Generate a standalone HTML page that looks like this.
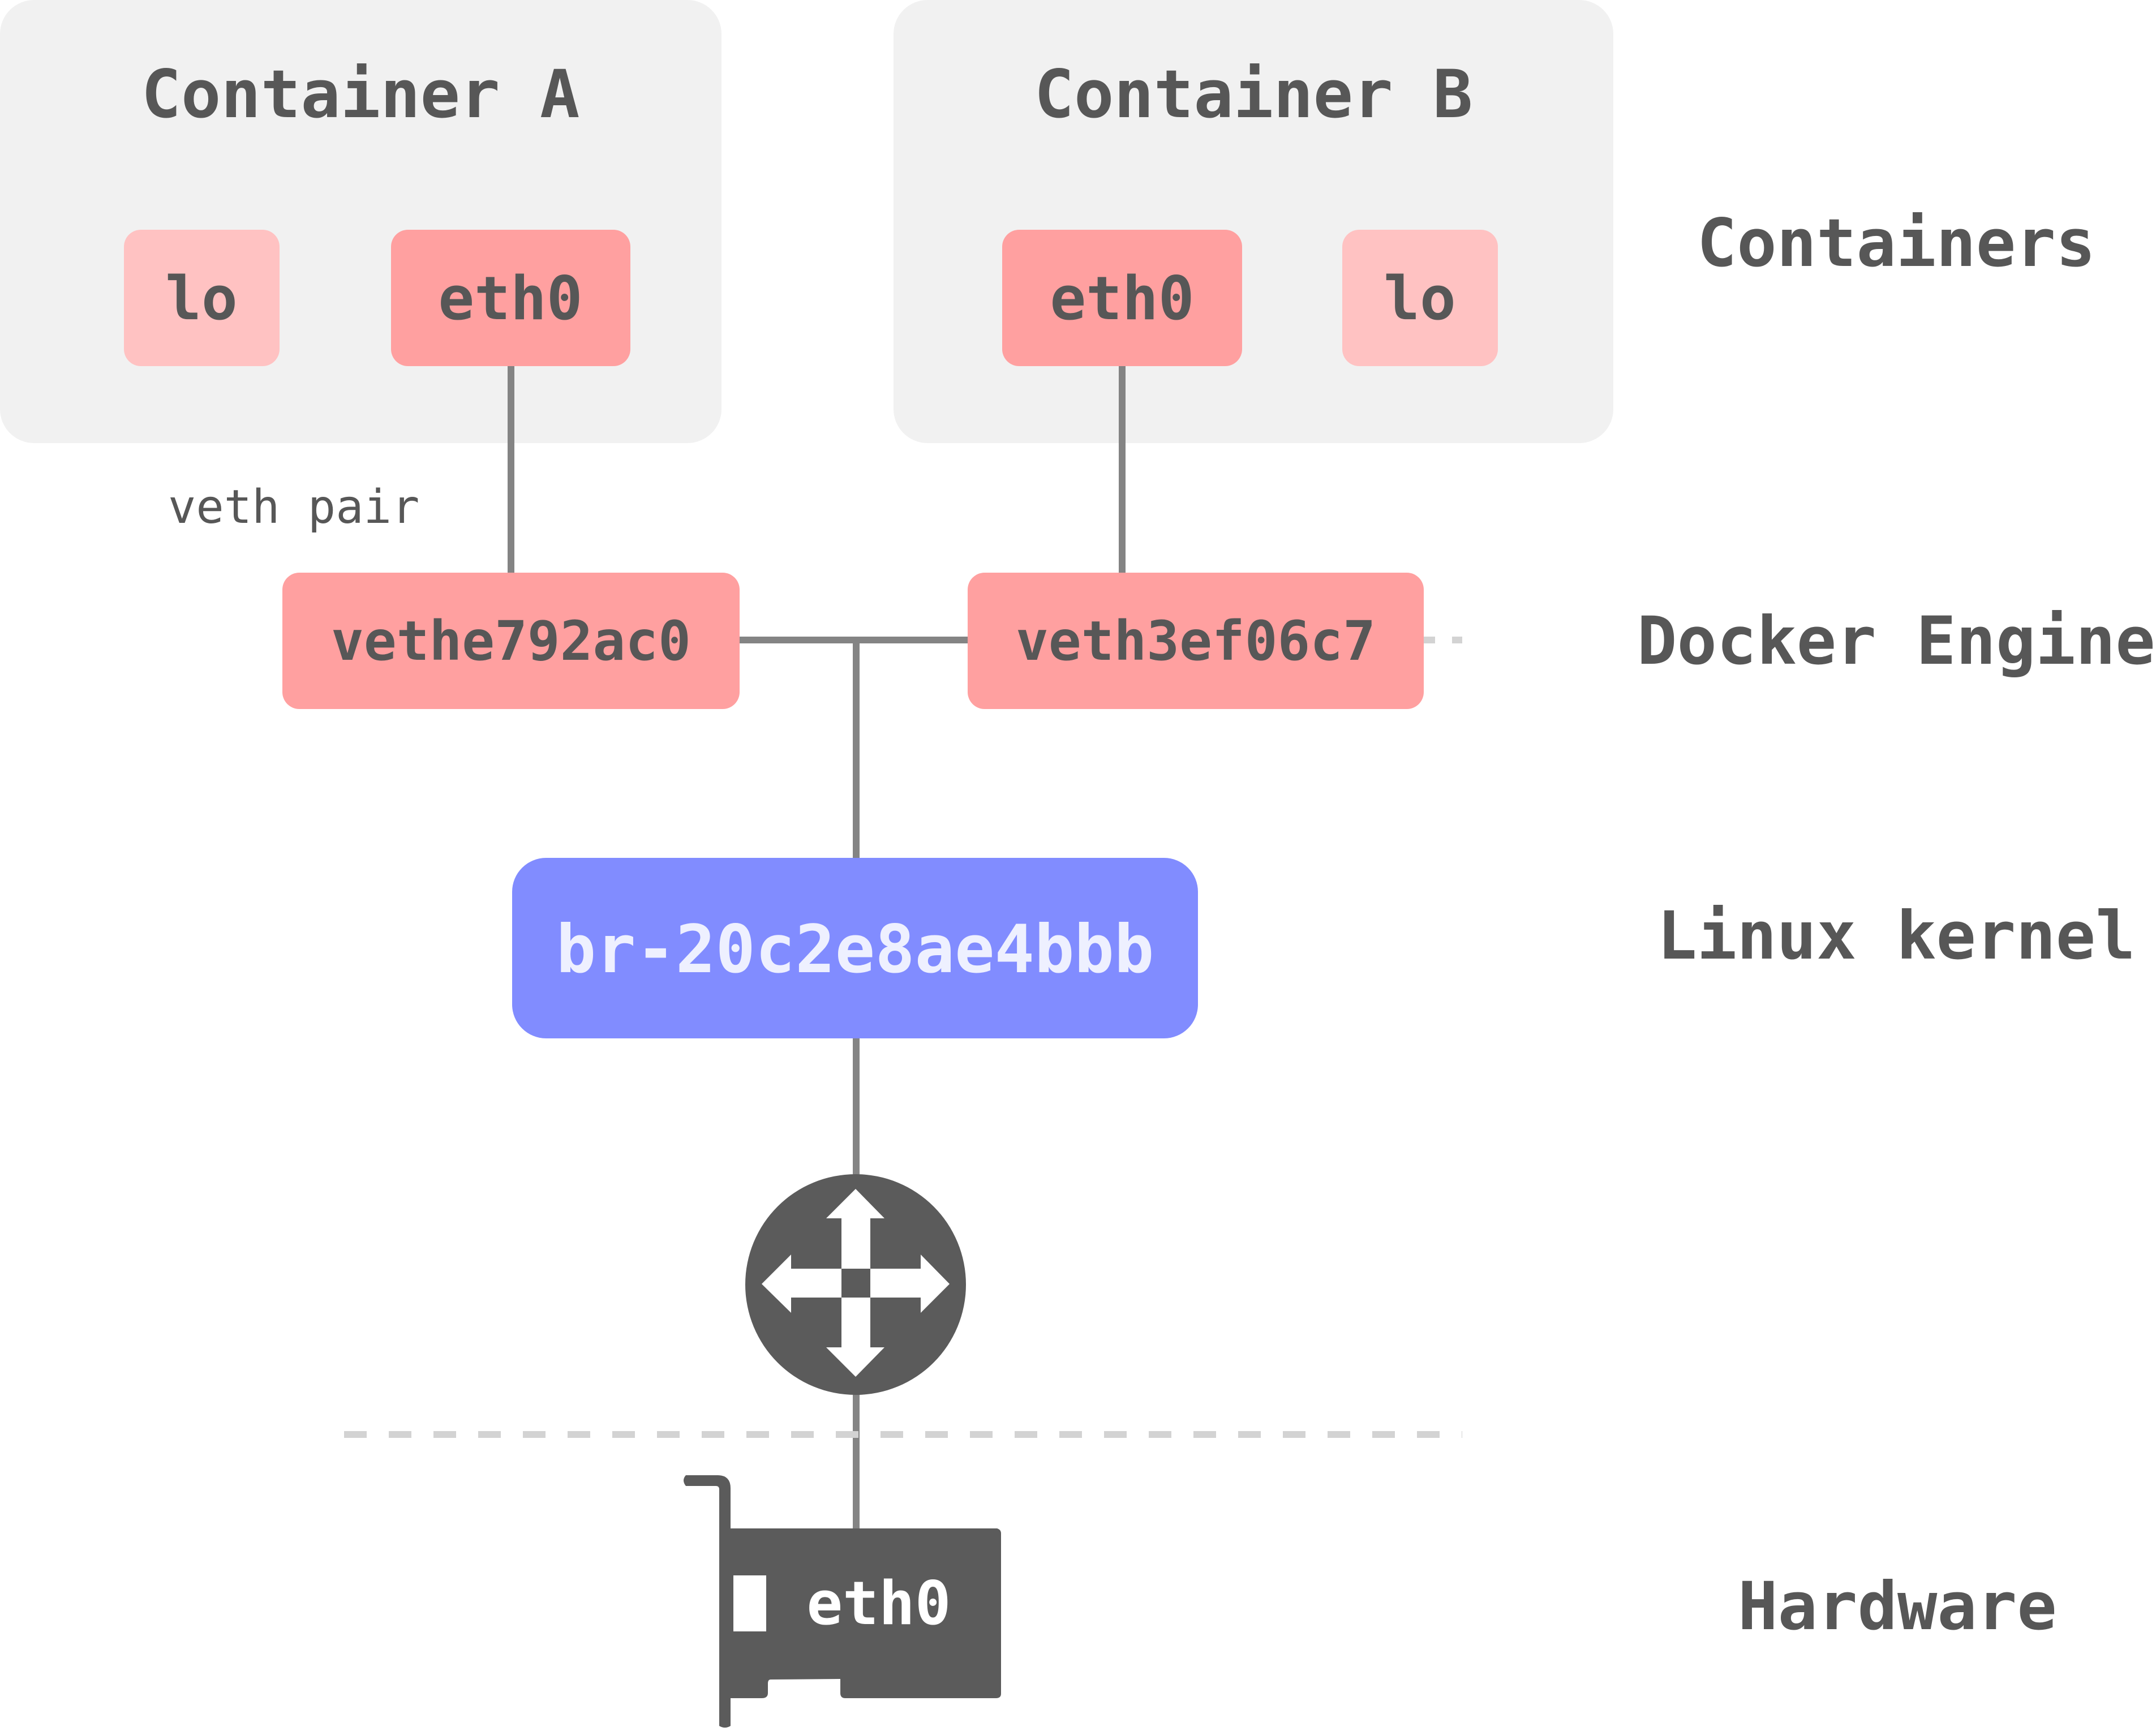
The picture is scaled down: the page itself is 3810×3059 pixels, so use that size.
<!DOCTYPE html>
<html><head><meta charset="utf-8"><style>html,body{margin:0;padding:0;background:#fff}svg{display:block}</style></head>
<body>
<svg width="3810" height="3059" viewBox="0 0 3810 3059" xmlns="http://www.w3.org/2000/svg" font-family="'DejaVu Sans Mono','Liberation Mono',monospace" font-weight="bold" fill="#575757">
<rect x="0" y="0" width="1275" height="783" rx="60" fill="#f1f1f1"/>
<rect x="1579" y="0" width="1272" height="783" rx="60" fill="#f1f1f1"/>
<text x="637" y="207" font-size="117" text-anchor="middle">Container A</text>
<text x="2215" y="207" font-size="117" text-anchor="middle">Container B</text>
<g stroke="#848484" stroke-width="12" fill="none">
<line x1="903" y1="647" x2="903" y2="1012"/>
<line x1="1983" y1="647" x2="1983" y2="1012"/>
<line x1="1307" y1="1131" x2="1710" y2="1131"/>
<line x1="1513" y1="1131" x2="1513" y2="1516"/>
<line x1="1513" y1="1835" x2="1513" y2="2080"/>
<line x1="1513" y1="2460" x2="1513" y2="2705"/>
</g>
<line x1="2516" y1="1131" x2="2584" y2="1131" stroke="#d3d3d3" stroke-width="12" stroke-dasharray="20 30"/>
<line x1="608" y1="2535" x2="2584" y2="2535" stroke="#d3d3d3" stroke-width="12" stroke-dasharray="40 39"/>
<rect x="219" y="406" width="275" height="241" rx="30" fill="#ffc2c2"/>
<rect x="691" y="406" width="423" height="241" rx="30" fill="#ffa0a0"/>
<rect x="1771" y="406" width="424" height="241" rx="30" fill="#ffa0a0"/>
<rect x="2372" y="406" width="275" height="241" rx="30" fill="#ffc2c2"/>
<text x="356" y="564" font-size="106" text-anchor="middle">lo</text>
<text x="902" y="564" font-size="106" text-anchor="middle">eth0</text>
<text x="1983" y="564" font-size="106" text-anchor="middle">eth0</text>
<text x="2509" y="564" font-size="106" text-anchor="middle">lo</text>
<text x="3351" y="470" font-size="117" text-anchor="middle">Containers</text>
<text x="297" y="924" font-size="82" font-weight="normal">veth pair</text>
<rect x="499" y="1012" width="808" height="241" rx="30" fill="#ffa0a0"/>
<rect x="1710" y="1012" width="806" height="241" rx="30" fill="#ffa0a0"/>
<text x="903" y="1166" font-size="96" text-anchor="middle">vethe792ac0</text>
<text x="2113" y="1166" font-size="96" text-anchor="middle">veth3ef06c7</text>
<text x="2893" y="1173" font-size="117">Docker Engine</text>
<rect x="905" y="1516" width="1212" height="319" rx="60" fill="#818cff"/>
<text x="1511" y="1718" font-size="117" text-anchor="middle" fill="#eef0ff">br-20c2e8ae4bbb</text>
<text x="3351" y="1694" font-size="117" text-anchor="middle">Linux kernel</text>
<circle cx="1512" cy="2270" r="195" fill="#5b5b5b"/>
<g fill="#fff">
<polygon points="1512,2101 1563,2153 1538,2153 1538,2242 1487,2242 1487,2153 1460,2153"/>
<polygon points="1512,2433 1563,2381 1538,2381 1538,2293 1487,2293 1487,2381 1460,2381"/>
<polygon points="1346,2269 1398,2217 1398,2242 1487,2242 1487,2293 1398,2293 1398,2320"/>
<polygon points="1678,2269 1627,2217 1627,2242 1538,2242 1538,2293 1627,2293 1627,2320"/>
</g>
<g fill="#5b5b5b">
<path d="M1212,2607 L1268,2607 Q1291,2607 1291,2630 L1291,3050 Q1281,3056 1271,3050 L1271,2632 Q1271,2626 1265,2626 L1212,2626 Q1204,2616 1212,2607 Z"/>
<path d="M1285,2701 L1762,2701 Q1769,2703 1769,2710 L1769,2993 Q1769,3001 1760,3001 L1494,3001 Q1485,3001 1485,2992 L1485,2967 L1362,2968 Q1357,2968 1357,2975 L1357,2992 Q1357,3001 1346,3001 L1285,3001 Z"/>
</g>
<rect x="1296" y="2784" width="58" height="99" fill="#fff"/>
<text x="1553" y="2870" font-size="106" text-anchor="middle" fill="#fff">eth0</text>
<text x="3353" y="2879" font-size="117" text-anchor="middle">Hardware</text>
</svg>
</body></html>
